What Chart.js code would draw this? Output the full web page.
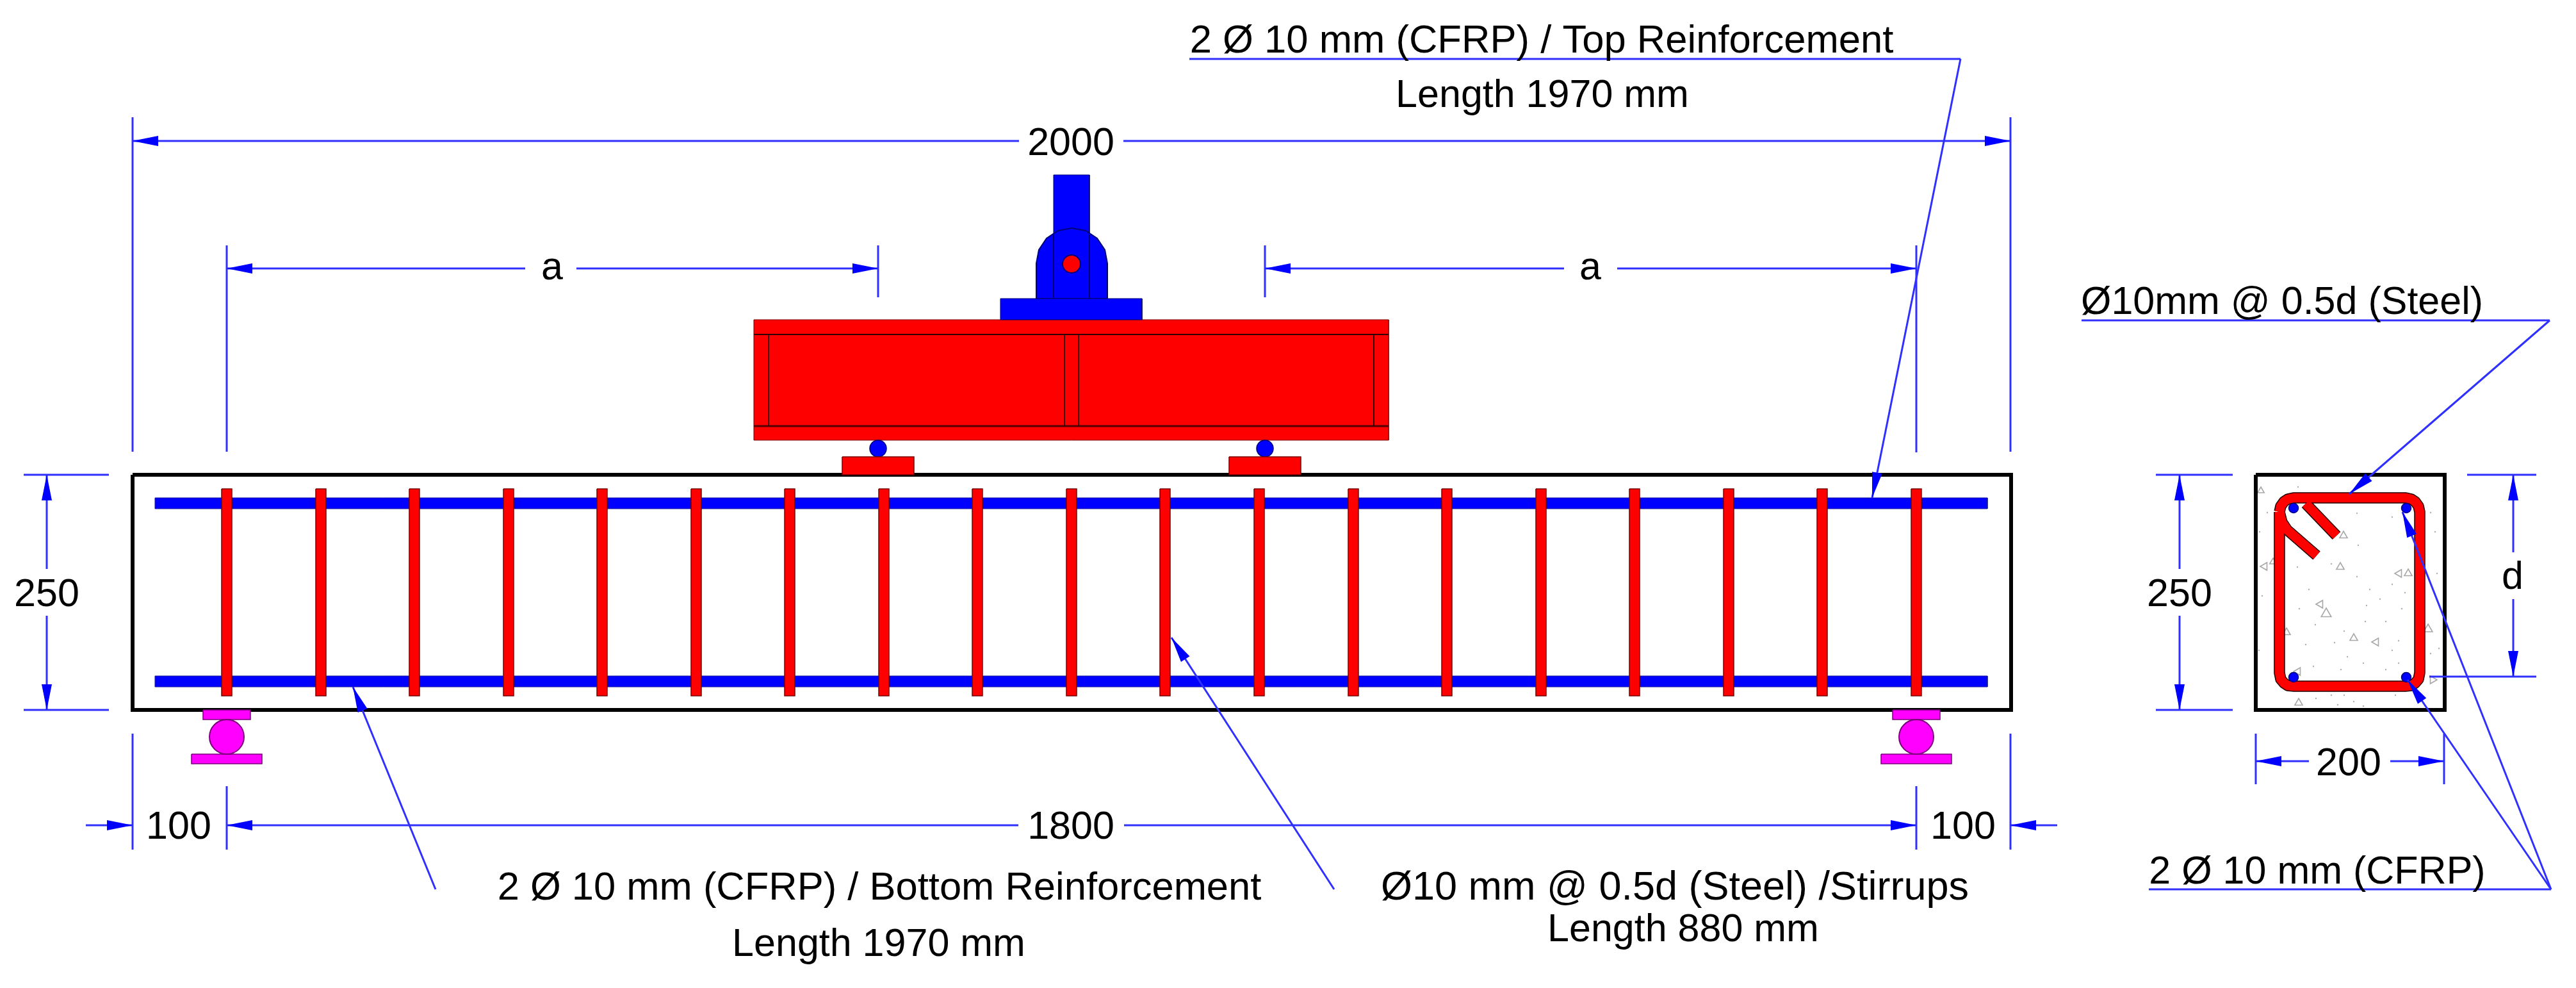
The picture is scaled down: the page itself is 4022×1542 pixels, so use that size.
<!DOCTYPE html>
<html><head><meta charset="utf-8">
<style>html,body{margin:0;padding:0;background:#fff}#w{width:4022px;height:1542px}canvas{display:block;filter:blur(0.7px)}</style>
<script src="https://cdn.jsdelivr.net/npm/chart.js@4"></script></head>
<body><div id="w"><canvas id="c" width="4022" height="1542"></canvas></div>
<script>
// ---------- values (page units) ----------
const stirrupX = [354,501,647,794,940,1087,1233,1380,1526,1673,1819,1966,2113,2259,2406,2552,2699,2845,2992];
const beamBox = [207,741,3140,1108];
const sectionBox = [3522,741,3817,1108];
const rebarRows = [[242,777,3103,794],[242,1055,3103,1072]];
const loadRollers = [1371,1975];
const supports = [354,2992];
const sectionBars = [[3581,793],[3757,793],[3581,1057],[3757,1057]];
const clevis = [[1618,466],[1618,411],[1622,390],[1634,372],[1652,360],[1673,356],[1695,360],[1713,372],[1725,390],[1729,411],[1729,466],[1618,466]];
const stirrupLoop = [[3559,799],[3561,790],[3566,783],[3572,779],[3581,777],[3756,777],[3765,779],[3771,783],[3776,790],[3778,799],[3778,1050],[3776,1060],[3771,1066],[3765,1070],[3755,1071],[3582,1071],[3572,1070],[3566,1066],[3561,1060],[3559,1050],[3559,799]];
const hookA = [[3600,786],[3648,836]];
const hookB = [[3559,799],[3563,815],[3571,827],[3617,867]];
const aggregate = [[3659,836,7,0],[3536,884,7,270],[3654,885,7,0],[3746,895,7,270],[3760,895,7,0],[3623,943,7,270],[3632,958,9,0],[3570,987,7,0],[3675,996,7,0],[3710,1002,7,270],[3791,982,8,0],[3588,1048,7,30],[3589,1097,7,0],[3798,1061,7,90],[3530,766,6,0],[3549,877,6,0]];
const sandDots = [[3588,760],[3680,801],[3682,851],[3735,807],[3587,885],[3605,920],[3640,880],[3680,900],[3700,920],[3695,945],[3716,935],[3735,912],[3755,925],[3750,950],[3590,950],[3615,975],[3660,985],[3693,970],[3725,970],[3745,1000],[3735,1015],[3600,1006],[3645,1003],[3665,1025],[3612,1040],[3655,1045],[3690,1035],[3725,1045],[3745,1035],[3616,1090],[3640,1085],[3660,1085],[3675,1095],[3740,1085],[3650,1100],[3690,1102],[3528,830],[3532,930],[3527,1015],[3795,800],[3802,830],[3805,895],[3795,1020],[3808,1012],[3540,800]];
// thin dimension / leader segments
const dimLines = [
 [207,183,207,705],[3139,183,3139,705],[207,220,1591,220],[1754,220,3139,220],
 [354,383,354,705],[1371,383,1371,464],[1975,383,1975,464],[2992,383,2992,706],
 [354,419,820,419],[900,419,1371,419],[1975,419,2442,419],[2525,419,2992,419],
 [37,741,170,741],[37,1108,170,1108],[73,741,73,888],[73,961,73,1108],
 [207,1145,207,1326],[3139,1145,3139,1326],[354,1227,354,1326],[2992,1227,2992,1326],
 [134,1288,207,1288],[354,1288,1590,1288],[1755,1288,2992,1288],[3139,1288,3212,1288],
 [3366,741,3486,741],[3366,1108,3486,1108],[3403,741,3403,888],[3403,961,3403,1108],
 [3852,741,3960,741],[3793,1056,3960,1056],[3924,741,3924,862],[3924,935,3924,1056],
 [3522,1145,3522,1224],[3816,1145,3816,1224],[3522,1188,3605,1188],[3732,1188,3816,1188]];
const leaderLines = [
 [1857,92,3061,92],[3061,92,2923,777],[680,1388,551,1072],[2083,1388,1829,995],
 [3250,500,3981,500],[3981,500,3668,771],[3355,1388,3983,1388],[3983,1388,3751,799],[3983,1388,3759,1061]];
// arrow tip x,y and the point its shaft comes from
const arrowHeads = [
 [207,220,300,220],[3139,220,3000,220],[354,419,450,419],[1371,419,1300,419],[1975,419,2050,419],[2992,419,2900,419],
 [73,741,73,800],[73,1108,73,1050],[207,1288,134,1288],[354,1288,450,1288],[2992,1288,2900,1288],[3139,1288,3212,1288],
 [3403,741,3403,800],[3403,1108,3403,1050],[3924,741,3924,800],[3924,1056,3924,1000],[3522,1188,3605,1188],[3816,1188,3732,1188],
 [2923,777,3061,92],[551,1072,680,1388],[1829,995,2083,1388],[3668,771,3981,500],[3751,799,3983,1388],[3759,1061,3983,1388]];
const labels = [
 ["2 Ø 10 mm (CFRP) / Top Reinforcement",2407,82,61.6],["Length 1970 mm",2408,167,61],["2000",1672,242,61],
 ["a",862,436,61],["a",2483,436,61],["250",73,946,61],["250",3403,946,61],["d",3923,919,61],["200",3667,1210,61],
 ["100",279,1309,61],["1800",1672,1309,61],["100",3065,1309,61],
 ["2 Ø 10 mm (CFRP) / Bottom Reinforcement",1373,1404,61.5],["Length 1970 mm",1372,1492,61],
 ["Ø10 mm @ 0.5d (Steel) /Stirrups",2615,1404,63],["Length 880 mm",2628,1469,61],
 ["Ø10mm @ 0.5d (Steel)",3563,490,61],["2 Ø 10 mm (CFRP)",3618,1379,61]];

// ---------- dataset builders ----------
const ds = [];
const pts = a => a.map(p => ({x:p[0], y:p[1]}));
const rectPts = (x0,y0,x1,y1) => [[x0,y0],[x1,y0],[x1,y1],[x0,y1],[x0,y0]];
const base = {showLine:true, pointRadius:0, tension:0, borderCapStyle:'butt', borderJoinStyle:'miter'};
function poly(p, fill, stroke, w){ ds.push({...base, data:pts(p), fill:fill?'shape':false, backgroundColor:fill||'transparent', borderColor:stroke||fill, borderWidth:w==null?2:w}); }
function line(p, stroke, w, extra){ ds.push({...base, data:pts(p), fill:false, borderColor:stroke, borderWidth:w, ...(extra||{})}); }
function rect(x0,y0,x1,y1,fill,stroke,w){ poly(rectPts(x0,y0,x1,y1),fill,stroke,w); }
function dot(x,y,r,fill,stroke,w){ ds.push({data:[{x,y}], showLine:false, pointStyle:'circle', pointRadius:r, pointBackgroundColor:fill, pointBorderColor:stroke, pointBorderWidth:w}); }
const RED='#ff0000', BLUE='#0000ff', MAG='#ff00ff', DIM='#2f2fff';
const darkRed='#7a0000', darkBlue='#00007a', darkMag='#7a007a';

// concrete texture of the section
ds.push({data:pts(sandDots), showLine:false, pointStyle:'circle', pointRadius:1.2, pointBackgroundColor:'#b0b0b0', pointBorderWidth:0});
ds.push({data:pts(aggregate), showLine:false, pointStyle:'triangle', pointRadius:aggregate.map(a=>a[2]), pointRotation:aggregate.map(a=>a[3]), pointBackgroundColor:'transparent', pointBorderColor:'#a8a8a8', pointBorderWidth:1.6});

// rebars and stirrups
rebarRows.forEach(r => rect(r[0],r[1],r[2],r[3],BLUE,'#1a1a9a',1));
stirrupX.forEach(x => rect(x-8,763,x+8,1086,RED,darkRed,1.5));
// beam and section outlines
rect(beamBox[0],beamBox[1],beamBox[2],beamBox[3],null,'#000',6);
rect(sectionBox[0],sectionBox[1],sectionBox[2],sectionBox[3],null,'#000',6);

// loading assembly
rect(1177,499,2168,687,RED,darkRed,1);
line([[1177,522],[2168,522]],'#300',2); line([[1177,665],[2168,665]],'#500',3);
line([[1200,522],[1200,665]],'#300',2); line([[1662,522],[1662,665]],'#300',2);
line([[1684,522],[1684,665]],'#300',2); line([[2145,522],[2145,665]],'#300',2);
rect(1645,273,1701,466,BLUE,darkBlue,1);
poly(clevis,BLUE,darkBlue,2);
line([[1645,366],[1645,466]],darkBlue,2); line([[1701,366],[1701,466]],darkBlue,2);
rect(1562,466,1783,499,BLUE,darkBlue,1);
dot(1673,412,14,RED,darkBlue,2);
loadRollers.forEach(x => { dot(x,700,13,BLUE,darkBlue,1.5); rect(x-56,713,x+56,741,RED,darkRed,1.5); });

// supports
supports.forEach(x => { rect(x-37,1108,x+37,1123,MAG,darkMag,1.5); rect(x-55,1177,x+55,1192,MAG,darkMag,1.5); dot(x,1150,27,MAG,darkMag,2); });

// section stirrup with hooks
[hookA,hookB,stirrupLoop].forEach(g => line(g,'#200000',17.5,{borderJoinStyle:'round'}));
[hookA,hookB,stirrupLoop].forEach(g => line(g,RED,14.5,{borderJoinStyle:'round'}));
sectionBars.forEach(b => dot(b[0],b[1],7.5,BLUE,darkBlue,1.5));

// dimensions and leaders
dimLines.forEach(s => line([[s[0],s[1]],[s[2],s[3]]],DIM,3));
leaderLines.forEach(s => line([[s[0],s[1]],[s[2],s[3]]],DIM,3));
arrowHeads.forEach(a => {
  const dx=a[2]-a[0], dy=a[3]-a[1], n=Math.hypot(dx,dy), ux=dx/n, uy=dy/n, L=40, H=8;
  poly([[a[0],a[1]],[a[0]+ux*L-uy*H,a[1]+uy*L+ux*H],[a[0]+ux*L+uy*H,a[1]+uy*L-ux*H],[a[0],a[1]]],BLUE,BLUE,0);
});

const labelPlugin = {
  id:'drawingLabels',
  afterDatasetsDraw(chart){
    const c=chart.ctx, X=chart.scales.x, Y=chart.scales.y;
    c.save(); c.fillStyle='#000'; c.textAlign='center'; c.textBaseline='alphabetic';
    labels.forEach(l => { c.font=l[3]+'px "Liberation Sans", Arial, sans-serif'; c.fillText(l[0], X.getPixelForValue(l[1]), Y.getPixelForValue(l[2])); });
    c.restore();
  }
};
const whiteBg = {id:'whiteBg', beforeDraw(chart){const c=chart.ctx;c.save();c.fillStyle='#fff';c.fillRect(0,0,chart.width,chart.height);c.restore();}};

new Chart(document.getElementById('c'),{
  type:'scatter',
  data:{datasets:ds.reverse()},
  options:{responsive:false, animation:false, devicePixelRatio:1, events:[],
    layout:{padding:0, autoPadding:false},
    plugins:{legend:{display:false},tooltip:{enabled:false},title:{display:false}},
    scales:{x:{type:'linear',min:0,max:4022,display:false},y:{type:'linear',min:0,max:1542,reverse:true,display:false}}},
  plugins:[whiteBg,labelPlugin]
});
</script></body></html>
